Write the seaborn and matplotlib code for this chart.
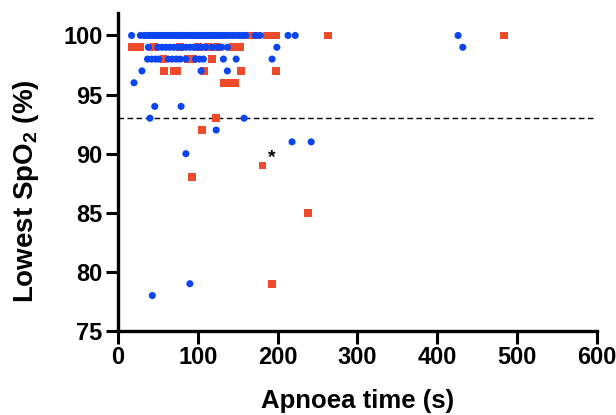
import matplotlib
matplotlib.use("Agg")
import matplotlib.pyplot as plt
import seaborn as sns
import pandas as pd

# blue circles: (apnoea time s, lowest SpO2 %)
blue_x = [17, 28, 33, 37, 40, 43, 46, 49, 52, 55, 58, 61, 64, 67, 70, 73, 76, 79, 82, 85,
          88, 91, 94, 97, 100, 103, 106, 109, 112, 115, 118, 121, 124, 127, 130, 133, 136,
          140, 144, 148, 152, 156, 160, 172, 178, 213, 222, 426,
          38, 50, 55, 60, 65, 70, 75, 80, 85, 90, 95, 100, 105, 110, 118, 125, 130, 137, 199, 432,
          37, 42, 47, 51, 63, 68, 73, 78, 85, 97, 102, 107, 132, 148, 193,
          30, 104, 137,
          20,
          46, 79,
          40, 158,
          123,
          218, 242,
          85,
          90,
          43]
blue_y = [100] * 48 + [99] * 20 + [98] * 15 + [97] * 3 + [96] + [94] * 2 + [93] * 2 + [92] + [91] * 2 + [90] + [79] + [78]

# red squares
red_x = [75, 95, 110, 120, 165, 172, 187, 193, 198, 263, 484,
         17, 28, 45, 78, 100, 113, 124, 144, 153,
         57, 88, 94, 118,
         58, 70, 74, 108, 154, 198,
         133, 140, 147,
         123, 105, 181, 93, 238, 193]
red_y = [100] * 11 + [99] * 9 + [98] * 4 + [97] * 6 + [96] * 3 + [93, 92, 89, 88, 85, 79]

threshold = 93
xticks = [0, 100, 200, 300, 400, 500, 600]
yticks = [75, 80, 85, 90, 95, 100]

blue = pd.DataFrame({"time": blue_x, "spo2": blue_y})
red = pd.DataFrame({"time": red_x, "spo2": red_y})

sns.set_style("ticks")
plt.rcParams["font.family"] = ["Liberation Sans", "DejaVu Sans"]
plt.rcParams["font.weight"] = "bold"
plt.rcParams["text.color"] = "black"
plt.rcParams["axes.labelcolor"] = "black"
plt.rcParams["xtick.color"] = "black"
plt.rcParams["ytick.color"] = "black"
plt.rcParams["mathtext.fontset"] = "custom"
plt.rcParams["mathtext.rm"] = "Liberation Sans:bold"
plt.rcParams["mathtext.bf"] = "Liberation Sans:bold"

fig = plt.figure(figsize=(6.16, 4.15), dpi=100)
ax = fig.add_axes([0.1916, 0.2024, 0.969 - 0.1916, 0.9687 - 0.2024])

sns.scatterplot(data=red, x="time", y="spo2", ax=ax, marker="s", s=32,
                color="#ee4a2c", edgecolor="none", linewidth=0, zorder=3)
sns.scatterplot(data=blue, x="time", y="spo2", ax=ax, marker="o", s=26,
                color="#0b45f2", edgecolor="none", linewidth=0, zorder=4)

ax.axhline(threshold, color="black", linestyle=(0, (4, 2.5)), linewidth=1, zorder=2)
ax.text(193, 89.7, "*", fontsize=14, fontweight="bold", ha="center", va="center")

ax.set_xlim(0, 600)
ax.set_ylim(75, 101.9)
ax.set_xticks(xticks)
ax.set_yticks(yticks)
ax.tick_params(axis="both", width=2.2, length=9, labelsize=17, pad=2, color="black",
               labelcolor="black")
for lab in ax.get_xticklabels() + ax.get_yticklabels():
    lab.set_fontweight("bold")

for side in ["top", "right"]:
    ax.spines[side].set_visible(False)
for side in ["left", "bottom"]:
    ax.spines[side].set_linewidth(2.4)
    ax.spines[side].set_color("black")

ax.set_xlabel("Apnoea time (s)", fontsize=18.5, fontweight="bold", labelpad=14)
ax.set_ylabel("Lowest SpO$_\\mathbf{2}$ (%)", fontsize=20, fontweight="bold")
ax.yaxis.set_label_coords(-0.16, 0.44)

fig.savefig("out.png", dpi=100)
